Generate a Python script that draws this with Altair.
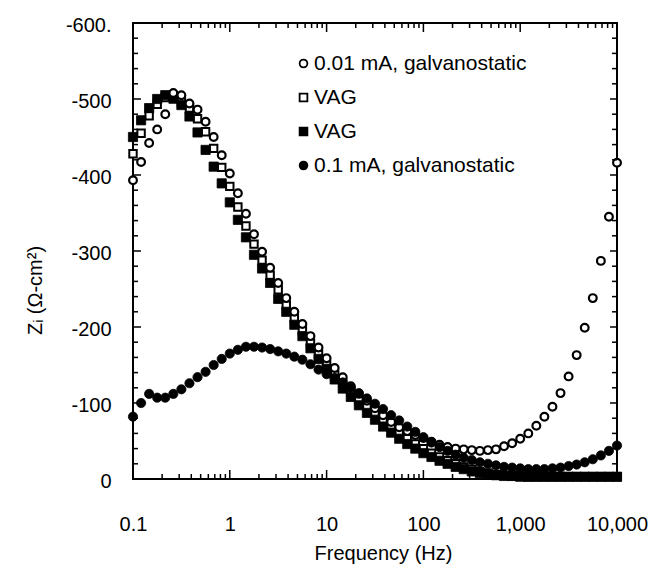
import altair as alt
import pandas as pd

# ---------------- data ----------------
# frequency grid: 12 points per decade, 0.1 Hz ... 10 kHz
decade_mantissas = [1.0, 1.212, 1.468, 1.778, 2.154, 2.610, 3.162, 3.831, 4.642, 5.623, 6.813, 8.254]
decade_starts = [0.1, 1.0, 10.0, 100.0, 1000.0]
last_frequency = [10000.0]

# -Z_I values (Ohm-cm^2), plotted upward
zi_001_galv = [393, 417, 442, 460, 480, 508, 505, 494, 486, 470, 450, 426, 402, 376, 349, 322,
               299, 278, 258, 238, 220, 204, 188, 173, 159, 146, 134, 122, 112, 103, 93, 84,
               75, 68, 63, 58, 54, 49, 45, 42, 40, 39, 38, 37, 38, 39, 43, 47,
               53, 60, 70, 82, 95, 113, 135, 163, 199, 238, 287, 345, 416]
zi_vag_open = [428, 455, 478, 493, 502, 500, 496, 488, 474, 457, 435, 410, 385, 358, 333, 309,
               288, 268, 249, 229, 211, 195, 179, 164, 150, 137, 126, 115, 104, 95, 86, 77,
               68, 60, 53, 46, 40, 34, 29, 24, 20, 16, 13, 10, 8, 6, 5, 4,
               4, 3, 3, 3, 3, 3, 3, 3, 3, 3, 3, 3, 3]
zi_vag_filled = [450, 472, 488, 500, 505, 502, 492, 477, 456, 433, 411, 389, 364, 341, 318, 295,
                 277, 258, 237, 220, 203, 188, 172, 158, 145, 131, 119, 108, 97, 87, 78, 69,
                 61, 53, 46, 40, 34, 29, 24, 20, 16, 13, 10, 8, 6, 5, 4, 4,
                 3, 3, 3, 3, 3, 3, 3, 3, 3, 3, 3, 3, 3]
zi_01_galv = [82, 100, 112, 107, 107, 112, 118, 126, 134, 141, 150, 158, 165, 170, 174, 174,
              173, 171, 168, 165, 161, 157, 151, 144, 138, 133, 127, 120, 113, 106, 99, 92,
              84, 77, 69, 62, 55, 48, 42, 37, 32, 28, 25, 22, 20, 18, 16, 15,
              14, 13, 13, 13, 14, 15, 17, 19, 22, 26, 31, 37, 44]

series_keys = ["a", "b", "c", "d"]
series_labels = ["0.01 mA, galvanostatic", "VAG", "VAG", "0.1 mA, galvanostatic"]
series_shapes = ["circle", "square", "square", "circle"]
series_fills = ["white", "white", "black", "black"]

x_major = [0.1, 1, 10, 100, 1000, 10000]
x_major_labels = ["0.1", "1", "10", "100", "1,000", "10,000"]
x_minor_mult = [2, 3, 4, 5, 6, 7, 8, 9]
y_major = [0, 100, 200, 300, 400, 500, 600]
y_major_labels = ["0", "-100", "-200", "-300", "-400", "-500", "-600."]
y_minor_step = 20

# ---------------- build tables ----------------
frequency = [m * d for d in decade_starts for m in decade_mantissas] + last_frequency
x_minor = [m * d for d in decade_starts for m in x_minor_mult]
y_minor = [v for v in range(0, 601, y_minor_step) if v % 100 != 0]

rows = []
for key, vals in zip(series_keys, [zi_001_galv, zi_vag_open, zi_vag_filled, zi_01_galv]):
    for f, z in zip(frequency, vals):
        rows.append({"freq": f, "z": z, "series": key})
df = pd.DataFrame(rows)


def value_label_expr(values, labels):
    expr = "''"
    for v, lab in reversed(list(zip(values, labels))):
        expr = f"abs(datum.value - {v}) < {abs(v) * 1e-6 + 1e-9} ? '{lab}' : ({expr})"
    return expr


def key_label_expr(keys, labels):
    expr = "''"
    for k, lab in reversed(list(zip(keys, labels))):
        expr = f"datum.label == '{k}' ? '{lab}' : ({expr})"
    return expr


FONT = "Liberation Sans"
W, H = 484, 456
x_scale = alt.Scale(type="log", domain=[0.1, 10000], nice=False)
y_scale = alt.Scale(domain=[0, 600], nice=False, zero=False)

x_axis = alt.Axis(values=x_major, labelExpr=value_label_expr(x_major, x_major_labels),
                  domain=False, grid=False, ticks=False, tickSize=0,
                  labelFont=FONT, labelFontSize=20, labelColor="black",
                  labelPadding=35, labelFlush=False, labelOverlap=False,
                  title="Frequency (Hz)", titleFont=FONT, titleFontSize=20,
                  titleFontWeight="normal", titleColor="black",
                  titlePadding=9, titleX=250)
y_axis = alt.Axis(values=y_major, labelExpr=value_label_expr(y_major, y_major_labels),
                  domain=False, grid=False, ticks=False, tickSize=0,
                  labelFont=FONT, labelFontSize=20, labelColor="black",
                  labelPadding=22, labelOffset=2, labelFlush=False, labelOverlap=False,
                  title="Zᵢ (Ω-cm²)", titleFont=FONT, titleFontSize=20,
                  titleFontWeight="normal", titleColor="black",
                  titleX=-98, titleY=267, titleAngle=270,
                  titleAlign="center", titleBaseline="middle")

legend = alt.Legend(orient="none", legendX=160, legendY=30, title=None,
                    labelExpr=key_label_expr(series_keys, series_labels),
                    labelFont=FONT, labelFontSize=21, labelColor="black", labelLimit=400,
                    symbolSize=60, symbolStrokeColor="black", symbolStrokeWidth=1.8,
                    rowPadding=12, labelOffset=0, padding=0, direction="vertical")

shape_enc = alt.Shape("series:N", scale=alt.Scale(domain=series_keys, range=series_shapes),
                      legend=legend)
fill_enc = alt.Fill("series:N", scale=alt.Scale(domain=series_keys, range=series_fills),
                    legend=legend)
stroke_enc = alt.Stroke("series:N", scale=alt.Scale(domain=series_keys,
                                                    range=["black", "black", "black", "black"]),
                        legend=legend)


def points(key, size, stroke_width):
    return alt.Chart(df).transform_filter(
        alt.datum.series == key
    ).mark_point(filled=True, size=size, strokeWidth=stroke_width, opacity=1).encode(
        x=alt.X("freq:Q", scale=x_scale, axis=x_axis),
        y=alt.Y("z:Q", scale=y_scale, axis=y_axis),
        shape=shape_enc,
        fill=fill_enc,
        stroke=stroke_enc,
    )


# inward-pointing frame ticks (tick values come from the tick lists above)
def x_ticks(values, edge, length):
    y0 = 0 if edge == "top" else H
    y1 = length if edge == "top" else H - length
    return alt.Chart(pd.DataFrame({"v": values})).mark_rule(
        color="black", strokeWidth=1.5
    ).encode(x=alt.X("v:Q", scale=x_scale, axis=x_axis), y=alt.value(y0), y2=alt.value(y1))


def y_ticks(values, edge, length):
    x0 = 0 if edge == "left" else W
    x1 = length if edge == "left" else W - length
    return alt.Chart(pd.DataFrame({"v": values})).mark_rule(
        color="black", strokeWidth=1.5
    ).encode(y=alt.Y("v:Q", scale=y_scale, axis=y_axis), x=alt.value(x0), x2=alt.value(x1))


chart = alt.layer(
    points("b", 55, 2.0),
    points("c", 85, 0.8),
    points("a", 60, 2.2),
    points("d", 85, 0.8),
    x_ticks(x_major, "bottom", 9), x_ticks(x_minor, "bottom", 5),
    x_ticks(x_major, "top", 9), x_ticks(x_minor, "top", 5),
    y_ticks(y_major, "left", 8), y_ticks(y_minor, "left", 5),
    y_ticks(y_major, "right", 7), y_ticks(y_minor, "right", 5),
).properties(
    width=W, height=H,
    padding={"left": 125, "top": 15, "right": 33, "bottom": 92},
    autosize=alt.AutoSizeParams(type="none"),
).configure(font=FONT).configure_view(stroke="black", strokeWidth=2)

chart.save("out.html", embed_options={"renderer": "svg", "actions": False})
